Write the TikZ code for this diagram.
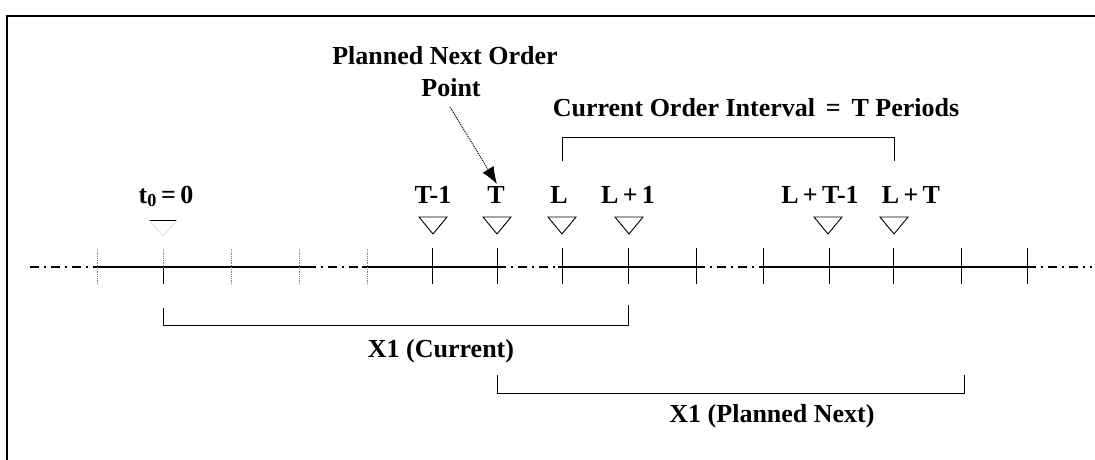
\documentclass[tikz,border=0pt]{standalone}
\usepackage{fontspec}
\setmainfont{Liberation Serif}
\usetikzlibrary{arrows.meta}
\begin{document}
\begin{tikzpicture}[x=1pt,y=-1pt,
  lbl/.style={font=\bfseries\fontsize{26}{30}\selectfont, inner sep=0pt, anchor=base},
  solidax/.style={line width=1.3pt},
  dashax/.style={line width=1.1pt, dash pattern=on 9pt off 5pt on 2pt off 5pt},
  tickmark/.style={line width=0.9pt},
  faintick/.style={line width=0.8pt, gray, densely dotted},
  tri/.style={line width=0.9pt},
  brk/.style={line width=0.9pt}]
\useasboundingbox (0,0) rectangle (1095,460);
% frame
\draw[line width=2pt] (7,460) -- (7,16) -- (1095,16);
% axis
\draw[dashax] (30,267) -- (97,267);
\draw[solidax] (97,267) -- (307,267);
\draw[dashax] (307,267) -- (362,267);
\draw[solidax] (362,267) -- (497,267);
\draw[dashax] (497,267) -- (558,267);
\draw[solidax] (558,267) -- (696,267);
\draw[dashax] (696,267) -- (763,267);
\draw[solidax] (763,267) -- (1027,267);
\draw[dashax] (1027,267) -- (1092,267);
% ticks
\foreach \x in {97,231,299,367} \draw[faintick] (\x,249) -- (\x,284);
\draw[faintick] (163,249) -- (163,268);
\draw[tickmark] (163,268) -- (163,284);
\foreach \x in {432,497,562,628,696,763,829,893,961,1027} \draw[tickmark] (\x,248) -- (\x,284);
% triangles
\foreach \x in {433,497,562,629,828,894} \draw[tri] (\x-14,217) -- (\x+14,217) -- (\x,234) -- cycle;
\draw[tri] (149,220) -- (177,220);
\draw[line width=0.6pt, gray!35] (149,220) -- (163,236) -- (177,220);
% labels
\node[lbl] (t0) at (166,203) {t\textsubscript{0}\,=\,0};
\node[lbl] (tm1) at (433,203) {T-1};
\node[lbl] (tt) at (496,203) {T};
\node[lbl] (ll) at (559,203) {L};
\node[lbl] (lp1) at (628,203) {L\,+\,1};
\node[lbl] (ltm1) at (820,203) {L\,+\,T-1};
\node[lbl] (lt) at (911,203) {L\,+\,T};
\node[lbl] (pno) at (445,64) {Planned Next Order};
\node[lbl] (pt) at (451,96) {Point};
\node[lbl] (coi) at (756,116) {Current Order Interval \,=\, T Periods};
\node[lbl] (x1c) at (441,357) {X1 (Current)};
\node[lbl] (x1p) at (772,422) {X1 (Planned Next)};
% dotted arrow
\coordinate (as) at (450,107);
\coordinate (at) at (497,184);
\draw[line width=1pt, densely dotted, -{Latex[length=17pt,width=13pt]}] (as) -- (at);
% brackets
\draw[brk] (562,161) |- (894,137) -- (894,161);
\draw[brk] (163,308) |- (628,325) -- (628,305);
\draw[brk] (497,375) |- (964,393) -- (964,375);
\end{tikzpicture}
\end{document}
